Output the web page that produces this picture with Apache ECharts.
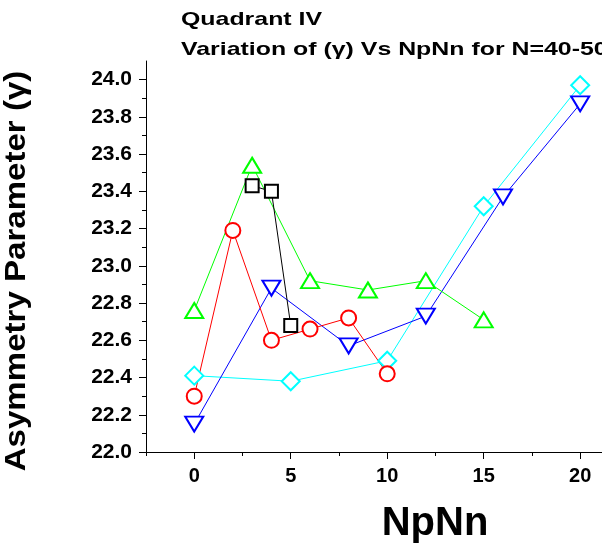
<!DOCTYPE html>
<html>
<head>
<meta charset="utf-8">
<script src="https://cdn.jsdelivr.net/npm/echarts@6/dist/echarts.min.js"></script>
<style>html,body{margin:0;padding:0;background:#fff}#c{width:602px;height:550px}</style>
</head>
<body>
<div id="c"></div>
<script>
// Data
const blackX = [3, 4, 5];
const blackY = [23.43, 23.40, 22.68];
const redX = [0, 2, 4, 6, 8, 10];
const redY = [22.30, 23.19, 22.60, 22.66, 22.72, 22.42];
const greenX = [0, 3, 6, 9, 12, 15];
const greenY = [22.76, 23.54, 22.92, 22.87, 22.92, 22.71];
const blueX = [0, 4, 8, 12, 16, 20];
const blueY = [22.15, 22.88, 22.57, 22.73, 23.37, 23.87];
const cyanX = [0, 5, 10, 15, 20];
const cyanY = [22.41, 22.38, 22.49, 23.32, 23.97];
const xMajorTicks = [0, 5, 10, 15, 20];
const xMinorTicks = [-2.5, 2.5, 7.5, 12.5, 17.5];
const yMajorTicks = [22.0, 22.2, 22.4, 22.6, 22.8, 23.0, 23.2, 23.4, 23.6, 23.8, 24.0];
const yMinorTicks = [22.1, 22.3, 22.5, 22.7, 22.9, 23.1, 23.3, 23.5, 23.7, 23.9];

const pair = (xs, ys) => xs.map((x, i) => [x, ys[i]]);
const FONT = '"Liberation Sans", Arial, sans-serif';

function mk(name, xs, ys, color, symbol, size, rotate) {
  return {
    name, type: 'line', xAxisIndex: 0, yAxisIndex: 0,
    data: pair(xs, ys),
    symbol, symbolSize: size, symbolRotate: rotate || 0,
    showAllSymbol: true,
    lineStyle: { color, width: 1 },
    itemStyle: { color: '#fff', borderColor: color, borderWidth: 2 },
    animation: false
  };
}

const chart = echarts.init(document.getElementById('c'));
const xMin = -2.5, xMax = 21.13, yMin = 22.0, yMax = 24.1;
chart.setOption({
  backgroundColor: '#fff',
  animation: false,
  grid: { left: 146, top: 61, right: 0, bottom: 98, containLabel: false },
  xAxis: [
    {
      type: 'value', min: xMin, max: xMax, position: 'bottom',
      axisLine: { show: true, onZero: false, lineStyle: { color: '#000', width: 1 } },
      axisTick: { show: true, customValues: xMajorTicks, length: 7, lineStyle: { color: '#000', width: 1 } },
      axisLabel: { show: true, customValues: xMajorTicks, margin: 14, color: '#000', fontSize: 20, fontWeight: 'bold', fontFamily: FONT },
      splitLine: { show: false }
    },
    {
      type: 'value', min: xMin, max: xMax, position: 'bottom',
      axisLine: { show: false, onZero: false },
      axisTick: { show: true, customValues: xMinorTicks, length: 4, lineStyle: { color: '#000', width: 1 } },
      axisLabel: { show: false },
      splitLine: { show: false }
    }
  ],
  yAxis: [
    {
      type: 'value', min: yMin, max: yMax, position: 'left',
      axisLine: { show: true, onZero: false, lineStyle: { color: '#000', width: 1 } },
      axisTick: { show: true, customValues: yMajorTicks, length: 7, lineStyle: { color: '#000', width: 1 } },
      axisLabel: { show: true, customValues: yMajorTicks, margin: 14, color: '#000', fontSize: 21, fontWeight: 'bold', fontFamily: FONT,
        formatter: v => Number(v).toFixed(1) },
      splitLine: { show: false }
    },
    {
      type: 'value', min: yMin, max: yMax, position: 'left',
      axisLine: { show: false, onZero: false },
      axisTick: { show: true, customValues: yMinorTicks, length: 4, lineStyle: { color: '#000', width: 1 } },
      axisLabel: { show: false },
      splitLine: { show: false }
    }
  ],
  graphic: [
    { type: 'text', x: 181, y: 10, scaleX: 1.31,
      style: { text: 'Quadrant IV', font: 'bold 19px ' + FONT, fill: '#000', textAlign: 'left', textVerticalAlign: 'top' } },
    { type: 'text', x: 181, y: 40, scaleX: 1.31,
      style: { text: 'Variation of (γ) Vs NpNn for N=40-50', font: 'bold 19px ' + FONT, fill: '#000', textAlign: 'left', textVerticalAlign: 'top' } },
    { type: 'text', x: 17, y: 271, rotation: Math.PI / 2, scaleX: 1.14,
      style: { text: 'Asymmetry Parameter (γ)', font: 'bold 29px ' + FONT, fill: '#000', textAlign: 'center', textVerticalAlign: 'middle' } },
    { type: 'text', x: 435, y: 524,
      style: { text: 'NpNn', font: 'bold 40px ' + FONT, fill: '#000', textAlign: 'center', textVerticalAlign: 'middle' } }
  ],
  series: [
    mk('cyan', cyanX, cyanY, '#00ffff', 'diamond', [18, 18]),
    mk('blue', blueX, blueY, '#0000ff', 'triangle', [18, 15], 180),
    mk('green', greenX, greenY, '#00ff00', 'triangle', [18, 15]),
    mk('red', redX, redY, '#ff0000', 'circle', 15),
    mk('black', blackX, blackY, '#000000', 'rect', 13)
  ]
});
</script>
</body>
</html>
